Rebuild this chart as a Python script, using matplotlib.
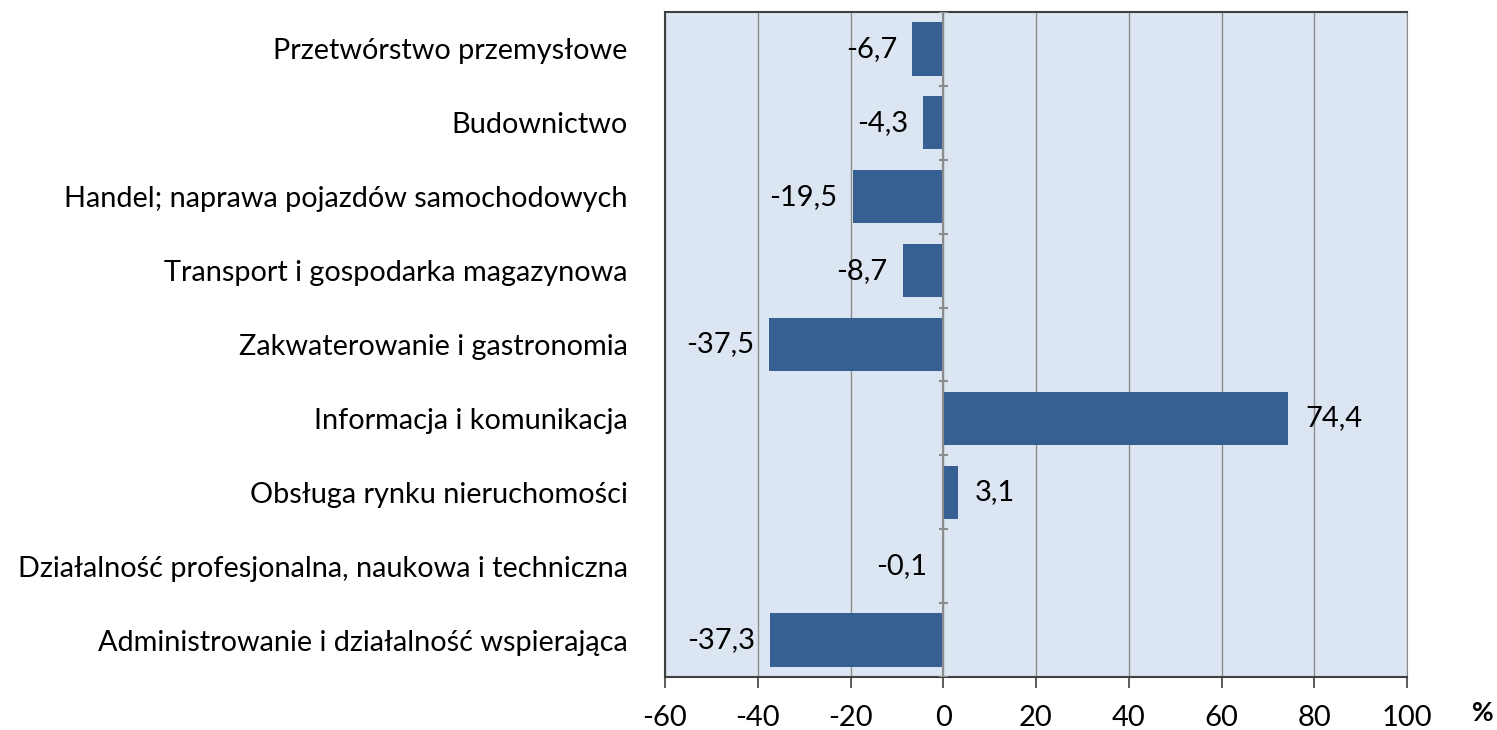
import matplotlib.pyplot as plt
import numpy as np

categories = [
    'Przetwórstwo przemysłowe',
    'Budownictwo',
    'Handel; naprawa pojazdów samochodowych',
    'Transport i gospodarka magazynowa',
    'Zakwaterowanie i gastronomia',
    'Informacja i komunikacja',
    'Obsługa rynku nieruchomości',
    'Działalność profesjonalna, naukowa i techniczna',
    'Administrowanie i działalność wspierająca',
]
values = [-6.7, -4.3, -19.5, -8.7, -37.5, 74.4, 3.1, -0.1, -37.3]
xticks = [-60, -40, -20, 0, 20, 40, 60, 80, 100]

plt.rcParams['font.family'] = ['Lato', 'DejaVu Sans']

fig = plt.figure(figsize=(14.97, 7.30), dpi=100)
ax = fig.add_axes([665 / 1497, 53 / 730, 742 / 1497, 665 / 730])
ax.set_facecolor('#dce6f2')

y = np.arange(len(categories))
ax.barh(y, values, height=0.72, color='#376092', zorder=3)

ax.set_xlim(-60, 100)
ax.set_ylim(len(categories) - 0.5, -0.5)
ax.set_xticks(xticks)
ax.set_xticklabels([str(t) for t in xticks], fontsize=21)
ax.tick_params(axis='x', length=8, width=1.2, color='#404040', pad=12)
ax.grid(axis='x', color='#8c8c8c', linewidth=1, zorder=1)

ax.set_yticks(y)
ax.set_yticklabels(categories, fontsize=20.8)
ax.tick_params(axis='y', length=0, pad=27)

for s in ['left', 'top', 'bottom']:
    ax.spines[s].set_color('#404040')
    ax.spines[s].set_linewidth(1.5)
ax.spines['right'].set_color('#8c8c8c')

# zero axis with ticks between categories
ax.axvline(0, color='#8c8c8c', linewidth=1.5, zorder=4)
ax.hlines(np.arange(len(categories) + 1) - 0.5, -1, 1,
          color='#8c8c8c', linewidth=1.5, zorder=4)

for yi, v in zip(y, values):
    lbl = f'{v:.1f}'.replace('.', ',')
    if v < 0:
        ax.annotate(lbl, (v, yi), xytext=(-11, 0), textcoords='offset points',
                    ha='right', va='center', fontsize=21, zorder=5)
    else:
        ax.annotate(lbl, (v, yi), xytext=(12, 0), textcoords='offset points',
                    ha='left', va='center', fontsize=21, zorder=5)

fig.text(1483 / 1497, 1 - 713 / 730, '%', fontsize=19, fontweight='bold',
         ha='center', va='center')

fig.savefig('out.png', dpi=100)
